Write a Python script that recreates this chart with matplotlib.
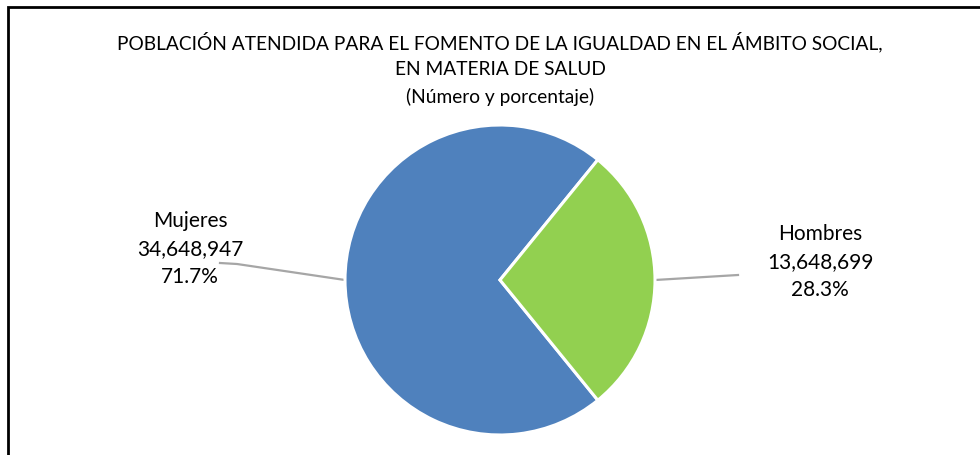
import numpy as np
import matplotlib
matplotlib.use("Agg")
import matplotlib.pyplot as plt

# Data
categories = ["Mujeres", "Hombres"]
values = [34648947, 13648699]
percent_labels = ["71.7%", "28.3%"]
colors = ["#4F81BD", "#92D050"]

title_lines = [
    "POBLACIÓN ATENDIDA PARA EL FOMENTO DE LA IGUALDAD EN EL ÁMBITO SOCIAL,",
    "EN MATERIA DE SALUD",
    "(Número y porcentaje)",
]

W, H = 980, 456
plt.rcParams["font.family"] = ["Lato", "DejaVu Sans"]

fig = plt.figure(figsize=(W / 100, H / 100), dpi=100)
ax = fig.add_axes([0, 0, 1, 1])


def Y(y):
    """Convert a top-down pixel row into the axis y coordinate."""
    return H - y


cx, cy, r = 500, Y(281), 155
share_right = values[1] / sum(values)
start = 360 * share_right / 2  # right-hand slice centred on 0 degrees

wedges, _ = ax.pie(values, colors=colors, startangle=start, counterclock=True,
                   center=(cx, cy), radius=r,
                   wedgeprops=dict(edgecolor="white", linewidth=2.2))
ax.set_xlim(0, W)
ax.set_ylim(0, H)
ax.set_aspect("equal")
ax.axis("off")

# Outer frame (left and top edges)
ax.plot([8, 8, W + 5], [-5, Y(8), Y(8)], color="black", lw=2, clip_on=False,
         solid_joinstyle="miter")

# Title
for i, line in enumerate(title_lines):
    ax.text(500, Y(42 + 27.5 * i), line, ha="center", va="center",
            fontsize=13.8, color="black")

# Data labels with leader lines from each wedge midpoint
label_pos = [(190, 249), (820, 262)]
line_ends = [[(237, 265), (220, 264)], [(738, 276)]]
for w, cat, val, pct, (lx, ly), ends in zip(wedges, categories, values,
                                            percent_labels, label_pos, line_ends):
    mid = np.deg2rad((w.theta1 + w.theta2) / 2)
    px, py = cx + r * np.cos(mid), cy + r * np.sin(mid)
    xs = [px] + [e[0] for e in ends]
    ys = [py] + [Y(e[1]) for e in ends]
    ax.plot(xs, ys, color="#A6A6A6", lw=1.6, zorder=0)
    ax.text(lx, Y(ly), f"{cat}\n{val:,}\n{pct}", ha="center", va="center",
            fontsize=15, linespacing=1.48, color="black")

fig.savefig("out.png", dpi=100, facecolor="white")
